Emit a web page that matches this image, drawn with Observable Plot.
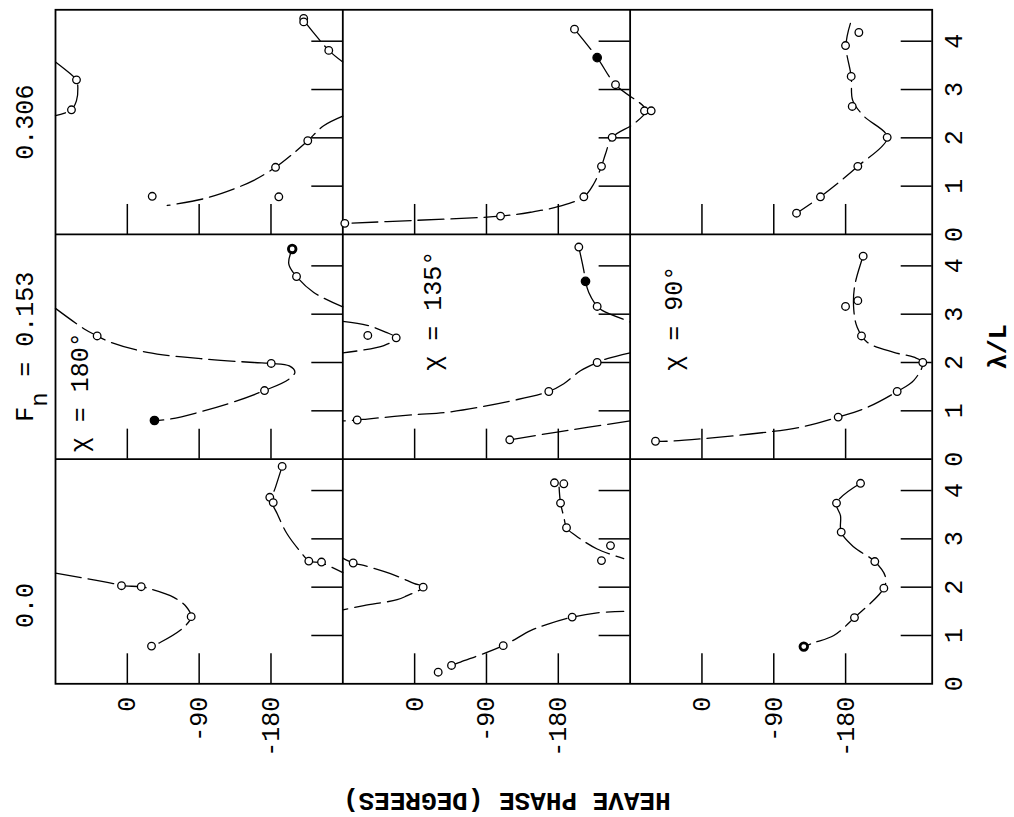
<!DOCTYPE html>
<html>
<head>
<meta charset="utf-8">
<script src="https://cdn.jsdelivr.net/npm/d3@7"></script>
<script src="https://cdn.jsdelivr.net/npm/@observablehq/plot@0.6"></script>
<style>
  html, body { margin: 0; padding: 0; background: #fff; }
  #chart svg { display: block; }
</style>
</head>
<body>
<div id="chart"></div>
<script>
// ---------------- data ----------------
const FROUDE = ["0.306", "0.153", "0.0"];          // rows, top to bottom
const HEADING = [180, 135, 90];                     // columns, left to right (χ)
const PHASE_TICKS = [0, -90, -180];                 // heave phase (deg)
const LAMBDA_TICKS = [0, 1, 2, 3, 4];               // λ/L
const LAMBDA_INNER_TICKS = [1, 2, 3, 4];

// measured points per panel: [phase (deg), λ/L, style] style 0 open, 1 heavy, 2 filled
const pts_306_180 = [[-221,4.47],[-221,4.40],[-252.4,3.81],[63.7,3.2],[70,2.58],[-226.1,1.94],[-185.7,1.39],[-189.8,0.78],[-31.2,0.79]];
const pts_306_135 = [[-200.3,4.25],[-228.7,3.66,2],[-251.7,3.10],[-288,2.56],[-296.4,2.56],[-247.5,2.01],[-234.1,1.41],[-212,0.78],[-107.6,0.38],[87.5,0.23]];
const pts_306_90  = [[-196.6,4.18],[-179.9,3.91],[-187,3.27],[-188.3,2.65],[-232.1,2.01],[-195.3,1.41],[-148.5,0.78],[-118.5,0.44]];
const pts_153_180 = [[-206.6,4.35,1],[-212,3.78],[37.8,2.55],[-180.3,1.98],[-171.9,1.42],[-34,0.80,2]];
const pts_153_135 = [[-205.7,4.39],[-214.1,3.68,2],[-228.7,3.16],[58.7,2.56],[23.1,2.51],[-228.7,2.0],[-168.1,1.4],[72,0.81],[-119.2,0.4]];
const pts_153_90  = [[-202,4.2],[-179.9,3.16],[-195.3,3.28],[-199.9,2.55],[-276.7,2.0],[-244.6,1.4],[-170.7,0.87],[58.2,0.37]];
const pts_0_180   = [[-194,4.5],[-178.5,3.86],[-182.8,3.75],[-227.4,2.54],[-243.3,2.52],[7.3,2.03],[-17.4,2.01],[-80,1.39],[-30.3,0.78]];
const pts_0_135   = [[-175.2,4.16],[-186.9,4.14],[-182.8,3.74],[-190.3,3.23],[-245.4,2.86],[-234.1,2.55],[77,2.5],[-10.7,2.0],[-197.4,1.38],[-111,0.79],[-46.2,0.38],[-29.5,0.24]];
const pts_0_90    = [[-198.7,4.15],[-168.6,3.74],[-174.5,3.14],[-216.6,2.53],[-227.9,1.98],[-191.1,1.37],[-127.6,0.77,1]];

// faired curves per panel (each segment a list of [phase, λ/L]); phase wraps at +90 / -270
const crv_306_180 = [
  [[-221,4.43],[-252.4,3.81],[-270,3.57]],
  [[90,3.57],[71,3.32],[63.7,3.2],[62,3.03],[63.7,2.77],[70,2.58],[90,2.46]],
  [[-270,2.45],[-246,2.25],[-226.1,1.94],[-204.5,1.63],[-185.7,1.39],[-158.5,1.12],[-133,0.94],[-96,0.74],[-50,0.6]]
];
const crv_306_135 = [
  [[-200.3,4.25],[-228.7,3.66],[-251.7,3.10],[-287,2.65],[-290,2.55],[-274.6,2.29],[-247.5,2.01],[-239.2,1.67],[-234.1,1.41],[-224.5,1.05],[-212,0.78],[-180.6,0.58],[-145.2,0.46],[-107.6,0.38],[1,0.29],[87.5,0.23]]
];
const crv_306_90 = [
  [[-186,4.37],[-180.5,3.91],[-187,3.27],[-189,2.77],[-202.8,2.45],[-232.1,2.01],[-195.3,1.41],[-148.5,0.78],[-118.5,0.44]]
];
const crv_153_180 = [
  [[-206.6,4.35],[-202.3,4.04],[-212,3.78],[-233.6,3.45],[-270,3.15]],
  [[90,3.12],[54.5,2.70],[37.8,2.55],[21,2.42],[-25,2.21],[-92,2.08],[-158.5,2.0],[-180.3,1.98],[-203,1.93],[-210,1.8],[-202,1.65],[-171.9,1.42],[-125,1.14],[-54,0.83],[-34,0.8]]
];
const crv_153_135 = [
  [[-205.7,4.39],[-212,3.9],[-214.1,3.68],[-218.2,3.45],[-228.7,3.16],[-235,3.08],[-270,2.84]],
  [[90,2.85],[59.4,2.77],[36.5,2.63],[23.1,2.51],[38.6,2.35],[90,2.2]],
  [[-270,2.2],[-241.3,2.08],[-228.7,2.0],[-207.8,1.83],[-186.9,1.56],[-168.1,1.4],[-122.2,1.21],[-40.8,0.97],[1,0.92],[59.4,0.83],[72,0.81],[90,0.79]],
  [[-119.2,0.4],[-178.6,0.56],[-270,0.79]]
];
const crv_153_90 = [
  [[-202,4.2],[-199.5,4.08],[-191.1,3.56],[-190.3,3.08],[-194.5,2.73],[-207,2.42],[-240.4,2.21],[-265.5,2.11],[-276.7,2.0],[-265.5,1.63],[-244.6,1.4],[-207,1.07],[-170.7,0.87],[-123.5,0.66],[-60.8,0.52],[1.8,0.42],[43.6,0.37],[58.2,0.37]]
];
const crv_0_180 = [
  [[-194,4.5],[-185.7,4.07],[-180.6,3.8],[-187.8,3.52],[-200.3,3.1],[-219.1,2.69],[-227.4,2.54],[-243.3,2.5],[-270,2.3]],
  [[90,2.29],[19,2.08],[7.3,2.03],[-17.4,2.01],[-27,1.97],[-58.2,1.79],[-74.1,1.59],[-80,1.39],[-70.8,1.17],[-41.6,0.86],[-30.3,0.78]]
];
const crv_0_135 = [
  [[-181,4.07],[-182.8,3.74],[-187,3.45],[-190.3,3.23],[-201.6,3.07],[-228.7,2.79],[-262,2.59]],
  [[90,2.6],[77,2.5],[63.7,2.45],[30.3,2.28],[1,2.08],[-10.7,2.0],[10,1.82],[21.9,1.74],[63.7,1.62],[90,1.53]],
  [[-46.2,0.38],[-57.5,0.45],[-111,0.79],[-145.2,1.1],[-166.1,1.23],[-197.4,1.38],[-228.7,1.47],[-262,1.5]]
];
const crv_0_90 = [
  [[-198.7,4.15],[-168.6,3.74],[-173.6,3.48],[-174.5,3.14],[-190.3,2.83],[-216.6,2.53],[-230,2.21],[-227.9,1.98],[-191.1,1.37],[-165.2,1.0],[-140.2,0.85],[-127.6,0.77]]
];

// heading annotations: [column, row, phase, λ/L]
const HEADING_LABELS = [[0,1,58.7,0.14],[1,1,-23.6,1.83],[2,1,35.6,1.83]];

// ---------------- layout ----------------
const W = 1014, H = 817;
const mL = 55, mR = 82.3, mT = 9.3, mB = 133.7;
const ROW_SPAN = 4.65;          // λ/L per panel row
const COL_SPAN = 360;           // degrees per panel column
const X_MAX = 1098.5;           // third column is slightly wider in the original
const Y_MAX = 3 * ROW_SPAN;
const colRight = [COL_SPAN, 2 * COL_SPAN, X_MAX];
const pxPerDeg = (W - mL - mR) / X_MAX;
const pxPerLam = (H - mT - mB) / Y_MAX;
const gx = (c, p) => 90 - p + COL_SPAN * c;
const gy = (r, l) => l + ROW_SPAN * (2 - r);

const panels = [
  [0,0,pts_306_180,crv_306_180],[0,1,pts_306_135,crv_306_135],[0,2,pts_306_90,crv_306_90],
  [1,0,pts_153_180,crv_153_180],[1,1,pts_153_135,crv_153_135],[1,2,pts_153_90,crv_153_90],
  [2,0,pts_0_180,crv_0_180],[2,1,pts_0_135,crv_0_135],[2,2,pts_0_90,crv_0_90]
];

const dots = [], lines = [];
panels.forEach(([r, c, pts, crv], k) => {
  pts.forEach(([p, l, s = 0]) => dots.push({x: gx(c, p), y: gy(r, l), s}));
  crv.forEach((seg, j) => seg.forEach(([p, l]) => lines.push({x: gx(c, p), y: gy(r, l), z: `${k}-${j}`})));
});

const vTicks = [], hTicks = [];
for (let r = 0; r < 3; r++) for (let c = 0; c < 3; c++) {
  PHASE_TICKS.forEach(t => vTicks.push({x: gx(c, t), y1: gy(r, 0), y2: gy(r, 0) + 30 / pxPerLam}));
  LAMBDA_INNER_TICKS.forEach(t => hTicks.push({y: gy(r, t), x1: colRight[c] - 31 / pxPerDeg, x2: colRight[c]}));
}
const bottomLabels = [];
HEADING.forEach((_, c) => PHASE_TICKS.forEach(t => bottomLabels.push({x: gx(c, t), label: String(t)})));
const rightLabels = [];
FROUDE.forEach((_, r) => LAMBDA_TICKS.forEach(t => rightLabels.push({y: gy(r, t), label: String(t)})));

const FONT = "'Liberation Mono', 'DejaVu Sans Mono', monospace";
const LW = 1.8;

const chart = Plot.plot({
  width: W, height: H,
  marginLeft: mL, marginRight: mR, marginTop: mT, marginBottom: mB,
  x: {domain: [0, X_MAX], axis: null},
  y: {domain: [0, Y_MAX], axis: null},
  style: {background: "white", fontFamily: FONT},
  marks: [
    Plot.line(lines, {x: "x", y: "y", z: "z", curve: "catmull-rom", stroke: "black", strokeWidth: 1.3, strokeDasharray: "26,7"}),
    Plot.ruleX(vTicks, {x: "x", y1: "y1", y2: "y2", stroke: "black", strokeWidth: 1.5}),
    Plot.ruleY(hTicks, {y: "y", x1: "x1", x2: "x2", stroke: "black", strokeWidth: 1.5}),
    Plot.ruleX([COL_SPAN, 2 * COL_SPAN], {stroke: "black", strokeWidth: LW}),
    Plot.ruleY([ROW_SPAN, 2 * ROW_SPAN], {stroke: "black", strokeWidth: LW}),
    Plot.frame({stroke: "black", strokeWidth: LW}),
    Plot.dot(dots.filter(d => d.s === 0), {x: "x", y: "y", r: 3.8, stroke: "black", fill: "white", strokeWidth: 1.3}),
    Plot.dot(dots.filter(d => d.s === 1), {x: "x", y: "y", r: 3.8, stroke: "black", fill: "white", strokeWidth: 2.8}),
    Plot.dot(dots.filter(d => d.s === 2), {x: "x", y: "y", r: 4.2, stroke: "black", fill: "black", strokeWidth: 1.3}),
    // tick labels
    Plot.text(bottomLabels, {x: "x", text: "label", frameAnchor: "bottom", dy: 13, rotate: -90, textAnchor: "end", lineAnchor: "middle", fontSize: 25, fontFamily: FONT}),
    Plot.text(rightLabels, {y: "y", text: "label", frameAnchor: "right", dx: 22, rotate: -90, textAnchor: "middle", lineAnchor: "middle", fontSize: 25, fontFamily: FONT}),
    Plot.text(["λ/L"], {text: d => d, frameAnchor: "right", dx: 66, rotate: -90, textAnchor: "middle", lineAnchor: "middle", fontSize: 25, fontWeight: "bold", fontFamily: FONT}),
    Plot.text(["HEAVE PHASE (DEGREES)"], {text: d => d, frameAnchor: "bottom", dx: 13, dy: 118, rotate: 180, textAnchor: "middle", lineAnchor: "middle", fontSize: 26, fontWeight: "bold", fontFamily: FONT}),
    // Froude number row labels
    Plot.text([FROUDE[0]], {text: d => d, y: gy(0, ROW_SPAN / 2), frameAnchor: "left", dx: -31, rotate: -90, textAnchor: "middle", lineAnchor: "middle", fontSize: 25, fontFamily: FONT}),
    Plot.text([`F  = ${FROUDE[1]}`], {text: d => d, y: gy(1, ROW_SPAN / 2), frameAnchor: "left", dx: -31, dy: 75, rotate: -90, textAnchor: "start", lineAnchor: "middle", fontSize: 25, fontFamily: FONT}),
    Plot.text(["n"], {text: d => d, y: gy(1, ROW_SPAN / 2), frameAnchor: "left", dx: -16, dy: 60, rotate: -90, textAnchor: "start", lineAnchor: "middle", fontSize: 24, fontFamily: FONT}),
    Plot.text([FROUDE[2]], {text: d => d, y: gy(2, ROW_SPAN / 2), frameAnchor: "left", dx: -31, dy: 34, rotate: -90, textAnchor: "middle", lineAnchor: "middle", fontSize: 25, fontFamily: FONT}),
    // heading labels
    Plot.text(HEADING_LABELS, {x: d => gx(d[0], d[2]), y: d => gy(d[1], d[3]), text: d => `χ = ${HEADING[d[0]]}°`, rotate: -90, textAnchor: "start", lineAnchor: "middle", fontSize: 25, fontFamily: FONT})
  ]
});
document.getElementById("chart").append(chart);
</script>
</body>
</html>
